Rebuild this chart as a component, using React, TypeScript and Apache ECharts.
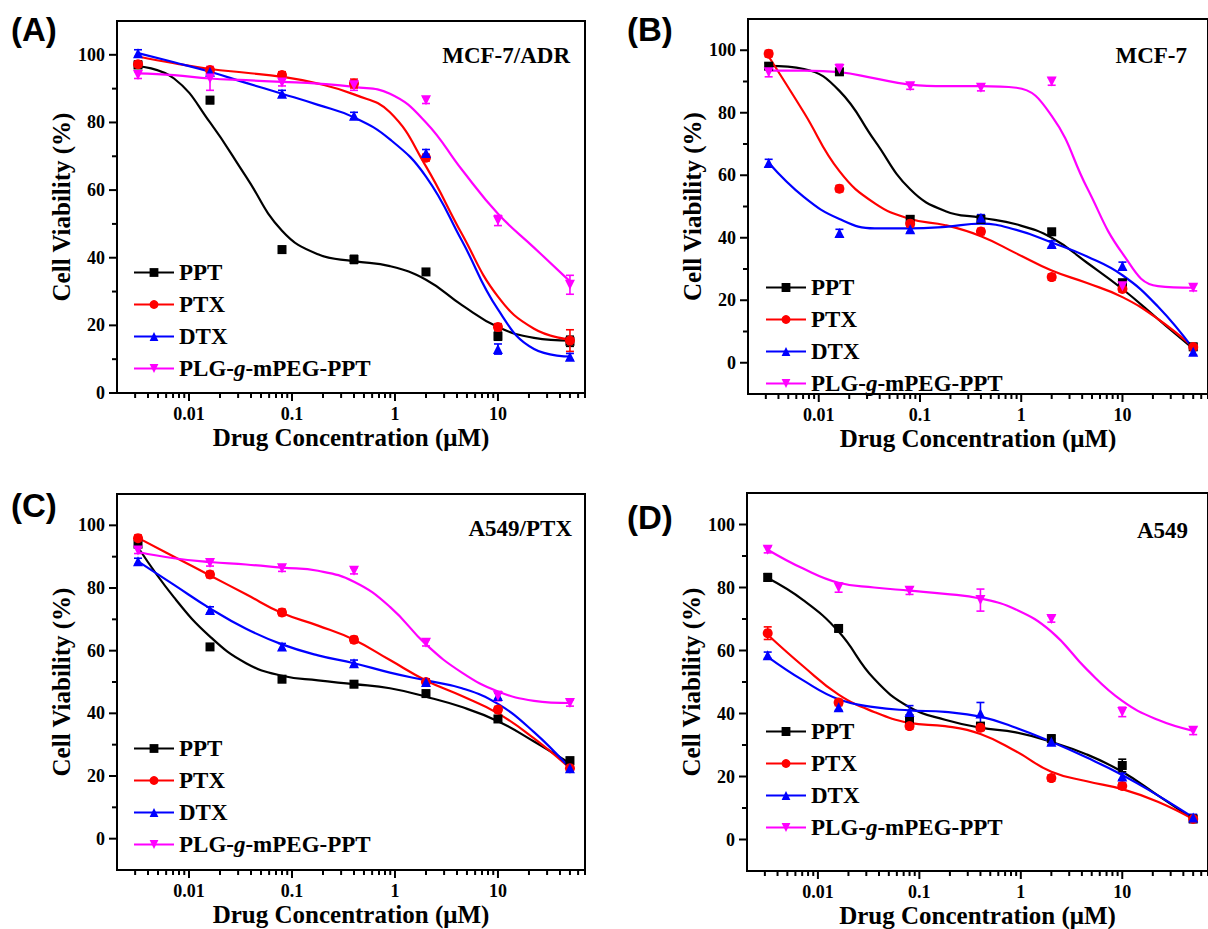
import React, { useEffect, useRef } from "react";
import * as echarts from "echarts";

// ---------- data ----------
const CONC = [0.0032, 0.016, 0.08, 0.4, 2, 10, 50];
const FIT_CONC = [0.0032, 0.00716, 0.016, 0.0358, 0.08, 0.179, 0.4, 0.894, 2, 4.47, 10, 22.4, 50];
const SERIES_NAMES = ["PPT", "PTX", "DTX", "PLG-g-mPEG-PPT"];
const X_TICK_LABELS: Record<string, string> = { "-2": "0.01", "-1": "0.1", "0": "1", "1": "10" };
const X_MAJOR_TICKS = [0.01, 0.1, 1, 10];
const X_MINOR_TICKS = [
  0.003, 0.004, 0.005, 0.006, 0.007, 0.008, 0.009,
  0.02, 0.03, 0.04, 0.05, 0.06, 0.07, 0.08, 0.09,
  0.2, 0.3, 0.4, 0.5, 0.6, 0.7, 0.8, 0.9,
  2, 3, 4, 5, 6, 7, 8, 9,
  20, 30, 40, 50, 60, 70,
];
const Y_MAJOR_TICKS = [0, 20, 40, 60, 80, 100];
const Y_MINOR_TICKS = [10, 30, 50, 70, 90];

// Panel A : MCF-7/ADR
const A_PPT = [97, 86.6, 42.4, 39.5, 35.8, 16.8, 15.3];
const A_PPT_ERR = [0.8, 1, 1, 1.2, 0.8, 1.2, 1.5];
const A_PPT_FIT = [96.7, 93, 80, 64, 48, 41, 39, 37.5, 33.5, 26, 19.5, 16.3, 15.5];
const A_PTX = [97.2, 95.5, 94, 91.5, 69.6, 19.5, 15.5];
const A_PTX_ERR = [1, 1, 1, 1.3, 1, 1, 3.2];
const A_PTX_FIT = [99.5, 97.5, 95.8, 94.7, 93.5, 91.5, 88.3, 83, 67, 47, 28.5, 19, 15.8];
const A_DTX = [100.5, 95, 88.5, 82, 71, 13, 10.7];
const A_DTX_ERR = [1, 1, 1, 1, 1, 1.5, 1];
const A_DTX_FIT = [100.5, 97.8, 95, 91.7, 88.5, 85.2, 81.5, 75, 64, 45, 24.7, 13, 10.8];
const A_PLG = [94, 93, 91.8, 91, 86.6, 51, 32];
const A_PLG_ERR = [1, 3.5, 1, 1.5, 1, 1.5, 2.8];
const A_PLG_FIT = [94.5, 94, 93, 92.5, 92, 91.5, 90.5, 88.5, 80, 66, 53, 43, 33];

// Panel B : MCF-7
const B_PPT = [94.9, 93.1, 45.9, 45.9, 41.9, 25.6, 5.1];
const B_PPT_ERR = [1, 1, 1, 1, 1, 1, 1];
const B_PPT_FIT = [95, 94, 87, 71, 55.5, 48.5, 46.4, 44.3, 40, 32, 23.6, 14, 4.5];
const B_PTX = [98.9, 55.7, 44.5, 42, 27.4, 23.6, 5];
const B_PTX_ERR = [1, 1, 1, 1, 1, 1, 1];
const B_PTX_FIT = [98, 80, 61.3, 51, 46, 44, 40.5, 35, 29.5, 25.5, 21, 14, 5];
const B_DTX = [63.9, 41.5, 42.7, 46.4, 38, 31, 3.5];
const B_DTX_ERR = [1.2, 1.2, 1, 1, 1, 1.2, 1];
const B_DTX_FIT = [64, 53, 46, 43, 43, 43.5, 44.5, 42.5, 38.5, 34, 28, 18, 4.5];
const B_PLG = [93, 94, 88.5, 88, 90, 24.5, 24];
const B_PLG_ERR = [1.5, 1.5, 1, 1, 1.2, 1, 1];
const B_PLG_FIT = [93.5, 93.5, 93, 91, 89, 88.5, 88.5, 88, 79, 56, 35, 24.5, 24];

// Panel C : A549/PTX
const C_PPT = [94, 61.2, 50.9, 49.3, 46.3, 38.2, 24.9];
const C_PPT_ERR = [1, 1, 1, 1, 1, 1, 1];
const C_PPT_FIT = [93, 77, 64.5, 56, 52, 50.5, 49.3, 48, 45.3, 42, 37.5, 31, 24];
const C_PTX = [95.9, 84.3, 72.2, 63.5, 50, 41.2, 22.5];
const C_PTX_ERR = [1, 1, 1, 1, 1, 1, 1];
const C_PTX_FIT = [96, 90, 84, 78, 72, 68, 63.5, 57, 50.5, 45.5, 40, 32, 22.5];
const C_DTX = [88.5, 73, 61.3, 56, 50, 45.5, 22.5];
const C_DTX_ERR = [1, 1, 1, 1, 1, 1, 1];
const C_DTX_FIT = [88.5, 81, 73.5, 67, 62, 58.5, 56, 53, 50.5, 48, 43, 34, 22.5];
const C_PLG = [92, 88, 86.3, 85.5, 62.5, 45.5, 43.3];
const C_PLG_ERR = [1, 1, 1, 1, 1, 1.5, 1];
const C_PLG_FIT = [91.5, 89.5, 88.3, 87.5, 86.5, 85.5, 82, 74, 62, 53, 47, 44, 43.3];

// Panel D : A549
const D_PPT = [83.2, 67, 37.6, 36, 32, 23.5, 6.5];
const D_PPT_ERR = [1.2, 1, 2, 1, 1.2, 2, 0.8];
const D_PPT_FIT = [83, 76, 66, 51, 42, 38, 35.5, 34, 31, 27, 21.5, 14, 6.5];
const D_PTX = [65.5, 43.5, 36, 35.5, 19.5, 17, 6.5];
const D_PTX_ERR = [2, 1, 1, 1, 1, 1, 1];
const D_PTX_FIT = [65, 55, 46, 40.5, 37, 36, 33.5, 28, 21.5, 18.5, 16, 12, 6.5];
const D_DTX = [58.5, 42, 40.5, 40, 31, 20, 7];
const D_DTX_ERR = [1, 1, 2, 3.5, 1, 1, 1];
const D_DTX_FIT = [58, 50.5, 44.5, 42, 41, 40.5, 39, 35.5, 31, 26, 20.5, 14, 7];
const D_PLG = [92, 80, 79, 76, 70, 40.5, 34.5];
const D_PLG_ERR = [1, 1.5, 1.2, 3.5, 1, 1.5, 1.2];
const D_PLG_FIT = [92, 86, 81.5, 80, 79, 78, 76.5, 73, 66, 54, 44, 38, 34.5];

// ---------- layout / style ----------
const SERIF = "Liberation Serif";
const SANS = "Liberation Sans";
const COLORS = ["#000000", "#ff0000", "#0000ff", "#ff00ff"];
const SYMBOLS = ["rect", "circle", "triangle", "path://M0,0 L10,0 L5,9 Z"];
const X_MIN = 0.002;
const X_MAX = 70;

const PANELS = [
  {
    letter: "(A)", cell: "MCF-7/ADR", yMin: 0,
    grid: { left: 117, top: 21, width: 468, height: 372 },
    letterPos: { left: 6, top: 8 }, cellPos: { right: 633, top: 39 },
    legendPos: { left: 133, top: 261 },
    pts: [A_PPT, A_PTX, A_DTX, A_PLG], err: [A_PPT_ERR, A_PTX_ERR, A_DTX_ERR, A_PLG_ERR],
    fit: [A_PPT_FIT, A_PTX_FIT, A_DTX_FIT, A_PLG_FIT],
  },
  {
    letter: "(B)", cell: "MCF-7", yMin: -10,
    grid: { left: 748, top: 19, width: 469, height: 375 },
    letterPos: { left: 622, top: 8 }, cellPos: { right: 16, top: 39 },
    legendPos: { left: 765, top: 276 },
    pts: [B_PPT, B_PTX, B_DTX, B_PLG], err: [B_PPT_ERR, B_PTX_ERR, B_DTX_ERR, B_PLG_ERR],
    fit: [B_PPT_FIT, B_PTX_FIT, B_DTX_FIT, B_PLG_FIT],
  },
  {
    letter: "(C)", cell: "A549/PTX", yMin: -10,
    grid: { left: 117, top: 494, width: 468, height: 376 },
    letterPos: { left: 6, top: 484 }, cellPos: { right: 631, top: 512 },
    legendPos: { left: 133, top: 737 },
    pts: [C_PPT, C_PTX, C_DTX, C_PLG], err: [C_PPT_ERR, C_PTX_ERR, C_DTX_ERR, C_PLG_ERR],
    fit: [C_PPT_FIT, C_PTX_FIT, C_DTX_FIT, C_PLG_FIT],
  },
  {
    letter: "(D)", cell: "A549", yMin: -10,
    grid: { left: 747, top: 493, width: 469, height: 379 },
    letterPos: { left: 622, top: 496 }, cellPos: { right: 15, top: 514 },
    legendPos: { left: 765, top: 720 },
    pts: [D_PPT, D_PTX, D_DTX, D_PLG], err: [D_PPT_ERR, D_PTX_ERR, D_DTX_ERR, D_PLG_ERR],
    fit: [D_PPT_FIT, D_PTX_FIT, D_DTX_FIT, D_PLG_FIT],
  },
];

function xLabel(v: number): string {
  const e = Math.log10(v);
  const r = Math.round(e);
  if (Math.abs(e - r) > 1e-6) return "";
  return X_TICK_LABELS[String(r)] || "";
}

const boldSerif = (size: number) => ({
  color: "#000", fontFamily: SERIF, fontWeight: "bold" as const, fontSize: size,
});

function buildOption() {
  const grid: any[] = [];
  const xAxis: any[] = [];
  const yAxis: any[] = [];
  const series: any[] = [];
  const legend: any[] = [];
  const title: any[] = [];

  PANELS.forEach((p, i) => {
    grid.push({ ...p.grid, show: true, borderColor: "#000", borderWidth: 2, backgroundColor: "transparent" });
    xAxis.push({
      type: "log", logBase: 10, gridIndex: i, min: X_MIN, max: X_MAX,
      axisLine: { show: true, onZero: false, lineStyle: { color: "#000", width: 2 } },
      axisTick: { show: false }, minorTick: { show: false }, splitLine: { show: false },
      axisLabel: {
        formatter: (v: number) => xLabel(v), showMinLabel: false, showMaxLabel: false,
        ...boldSerif(18), margin: 12,
      },
      name: "Drug Concentration (\u03bcM)", nameLocation: "middle", nameGap: 32,
      nameTextStyle: boldSerif(25),
    });
    yAxis.push({
      type: "value", gridIndex: i, min: p.yMin, max: 110,
      axisLine: { show: true, onZero: false, lineStyle: { color: "#000", width: 2 } },
      axisTick: { show: false }, minorTick: { show: false }, splitLine: { show: false },
      axisLabel: {
        formatter: (v: number) => (v >= 0 && v <= 100 && v % 20 === 0 ? String(v) : ""),
        showMinLabel: p.yMin === 0, showMaxLabel: false,
        ...boldSerif(18), margin: 12,
      },
      name: "Cell Viability (%)", nameLocation: "middle", nameGap: 41, nameRotate: 90,
      nameTextStyle: boldSerif(25),
    });

    // ticks drawn through the axes' own scales
    const tickData: any[] = [];
    X_MAJOR_TICKS.forEach((v) => tickData.push([v, p.yMin, 0]));
    X_MINOR_TICKS.forEach((v) => tickData.push([v, p.yMin, 1]));
    Y_MAJOR_TICKS.forEach((v) => tickData.push([X_MIN, v, 2]));
    Y_MINOR_TICKS.forEach((v) => tickData.push([X_MIN, v, 3]));
    series.push({
      type: "custom", name: "ticks" + i, xAxisIndex: i, yAxisIndex: i, clip: false,
      silent: true, data: tickData, z: 10,
      renderItem: (_params: any, api: any) => {
        const kind = api.value(2);
        const pt = api.coord([api.value(0), api.value(1)]);
        const len = kind === 0 || kind === 2 ? 8 : 5;
        const shape = kind < 2
          ? { x1: pt[0], y1: pt[1], x2: pt[0], y2: pt[1] + len }
          : { x1: pt[0], y1: pt[1], x2: pt[0] - len, y2: pt[1] };
        return { type: "line", shape, style: { stroke: "#000", lineWidth: 2 } };
      },
    });

    SERIES_NAMES.forEach((name, s) => {
      const color = COLORS[s];
      // fitted curve
      series.push({
        type: "line", name, xAxisIndex: i, yAxisIndex: i,
        data: FIT_CONC.map((c, k) => [c, p.fit[s][k]]),
        smooth: 0.45, showSymbol: false, symbol: SYMBOLS[s], symbolSize: 10,
        lineStyle: { color, width: 2.2 }, itemStyle: { color },
        silent: true, z: 3,
      });
      // error bars
      series.push({
        type: "custom", name, xAxisIndex: i, yAxisIndex: i, clip: false, silent: true, z: 4,
        data: CONC.map((c, k) => [c, p.pts[s][k] - p.err[s][k], p.pts[s][k] + p.err[s][k]]),
        renderItem: (_params: any, api: any) => {
          const x = api.value(0);
          const lo = api.coord([x, api.value(1)]);
          const hi = api.coord([x, api.value(2)]);
          const w = 4;
          const st = { stroke: color, lineWidth: 1.6 };
          return {
            type: "group",
            children: [
              { type: "line", shape: { x1: lo[0], y1: lo[1], x2: hi[0], y2: hi[1] }, style: st },
              { type: "line", shape: { x1: lo[0] - w, y1: lo[1], x2: lo[0] + w, y2: lo[1] }, style: st },
              { type: "line", shape: { x1: hi[0] - w, y1: hi[1], x2: hi[0] + w, y2: hi[1] }, style: st },
            ],
          };
        },
      });
      // data points
      series.push({
        type: "scatter", name, xAxisIndex: i, yAxisIndex: i,
        data: CONC.map((c, k) => [c, p.pts[s][k]]),
        symbol: SYMBOLS[s], symbolSize: s === 0 ? 9 : 10,
        itemStyle: { color, opacity: 1 }, silent: true, z: 5,
      });
    });

    legend.push({
      ...p.legendPos, orient: "vertical", data: SERIES_NAMES, selectedMode: false,
      padding: 0, itemWidth: 40, itemHeight: 11, itemGap: 9,
      formatter: (n: string) => (n === "PLG-g-mPEG-PPT" ? "{b|PLG-}{i|g}{b|-mPEG-PPT}" : "{b|" + n + "}"),
      textStyle: {
        ...boldSerif(23),
        rich: {
          b: boldSerif(23),
          i: { ...boldSerif(23), fontStyle: "italic" },
        },
      },
    });

    title.push({
      text: p.letter, ...p.letterPos,
      textStyle: { color: "#000", fontFamily: SANS, fontWeight: "bold", fontSize: 33 },
    });
    title.push({
      text: p.cell, ...p.cellPos,
      textStyle: boldSerif(23),
    });
  });

  return { animation: false, backgroundColor: "#ffffff", textStyle: { fontFamily: SERIF }, grid, xAxis, yAxis, series, legend, title };
}

export default function App() {
  const ref = useRef<HTMLDivElement>(null);
  useEffect(() => {
    if (!ref.current) return;
    const chart = echarts.init(ref.current, undefined, { renderer: "svg" });
    chart.setOption(buildOption() as any);
    return () => chart.dispose();
  }, []);
  return (
    <div
      ref={ref}
      style={{ position: "absolute", left: 0, top: 0, width: 1208, height: 929, background: "#fff" }}
    />
  );
}
